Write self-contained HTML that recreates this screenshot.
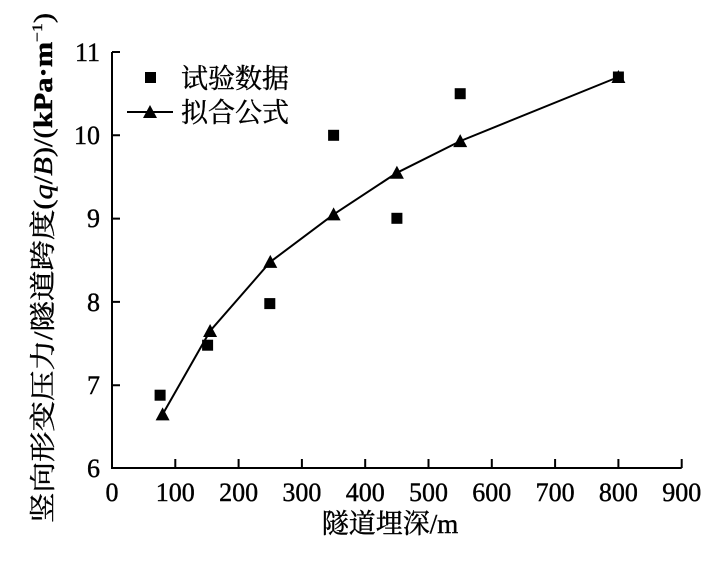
<!DOCTYPE html>
<html><head><meta charset="utf-8"><style>
body{margin:0;background:#fff;}
svg text{font-family:"Liberation Serif","Noto Serif CJK SC",serif;fill:#000;stroke:#000;stroke-width:0.4;}
</style></head><body>
<svg width="727" height="556" viewBox="0 0 727 556" xmlns="http://www.w3.org/2000/svg">
<defs><polygon id="t" points="0,-7 7,6 -7,6"/></defs>
<g stroke="#000" stroke-width="2" fill="none">
<path d="M112,52 V468 H681.7"/>
<path d="M112,52h8 M112,135.3h8 M112,218.6h8 M112,301.9h8 M112,385.2h8"/>
<path d="M175.3,468v-9 M238.6,468v-9 M301.9,468v-9 M365.2,468v-9 M428.5,468v-9 M491.8,468v-9 M555.1,468v-9 M618.4,468v-9 M681.7,468v-9"/>
<polyline points="162.6,414.4 210.1,331 270.3,261.9 333.6,214.4 396.9,172.8 460.2,141.1 618.4,77"/>
<path d="M127,112H173"/>
</g>
<g fill="#000">
<rect x="154.6" y="389.7" width="11" height="11"/>
<rect x="202.1" y="339.7" width="11" height="11"/>
<rect x="264.3" y="298.1" width="11" height="11"/>
<rect x="328.1" y="129.8" width="11" height="11"/>
<rect x="391.4" y="212.8" width="11" height="11"/>
<rect x="454.7" y="88.2" width="11" height="11"/>
<rect x="612.9" y="71.5" width="11" height="11"/>
<rect x="145" y="72" width="11" height="11"/>
<use href="#t" x="162.6" y="414.4"/>
<use href="#t" x="210.1" y="331"/>
<use href="#t" x="270.3" y="261.9"/>
<use href="#t" x="333.6" y="214.4"/>
<use href="#t" x="396.9" y="172.8"/>
<use href="#t" x="460.2" y="141.1"/>
<use href="#t" x="618.4" y="77"/>
<use href="#t" x="150" y="112"/>
</g>
<g font-size="26" text-anchor="end">
<text x="100" y="61">11</text><text x="100" y="144">10</text><text x="100" y="227">9</text><text x="100" y="311">8</text><text x="100" y="394">7</text><text x="100" y="477">6</text>
</g>
<g font-size="26" text-anchor="middle">
<text x="112" y="501">0</text><text x="175.3" y="501">100</text><text x="238.6" y="501">200</text><text x="301.9" y="501">300</text><text x="365.2" y="501">400</text><text x="428.5" y="501">500</text><text x="491.8" y="501">600</text><text x="555.1" y="501">700</text><text x="618.4" y="501">800</text><text x="681.7" y="501">900</text>
<text x="390" y="533" font-size="27">隧道埋深/m</text>
</g>
<text x="181" y="88" font-size="27">试验数据</text>
<text x="181" y="122" font-size="27">拟合公式</text>
<text transform="translate(52,268) rotate(-90)" text-anchor="middle" font-size="26" textLength="510" lengthAdjust="spacingAndGlyphs">竖向形变压力/隧道跨度(<tspan font-style="italic">q</tspan>/<tspan font-style="italic">B</tspan>)/(<tspan font-weight="bold">kPa·m</tspan><tspan font-size="15" dy="-10">−1</tspan><tspan dy="10">)</tspan></text>
</svg>
</body></html>
